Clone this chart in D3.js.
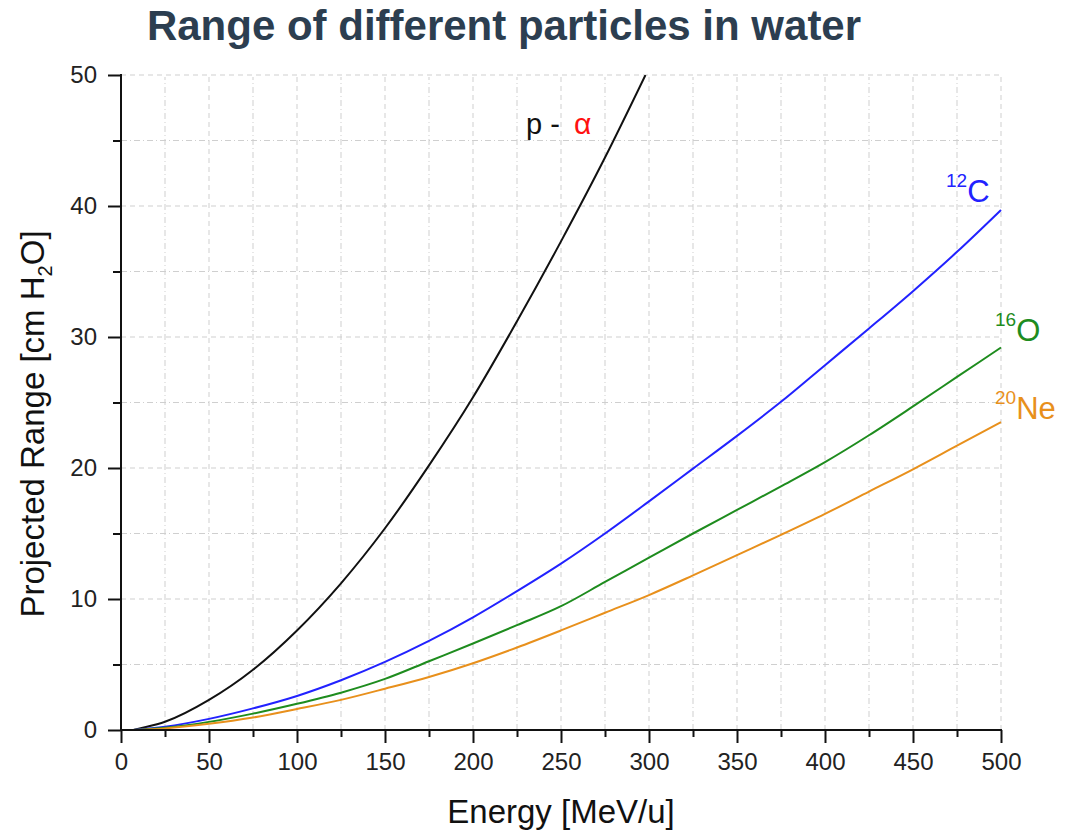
<!DOCTYPE html>
<html>
<head>
<meta charset="utf-8">
<script src="https://cdn.jsdelivr.net/npm/d3@7"></script>
<style>
  body { margin: 0; background: #fff; }
  svg { display: block; }
  text { font-family: "Liberation Sans", Arial, sans-serif; }
</style>
</head>
<body>
<svg id="chart" width="1065" height="831"></svg>
<script>
// ---- Data ----
const energyTicks = [0, 50, 100, 150, 200, 250, 300, 350, 400, 450, 500];
const rangeTicks = [0, 10, 20, 30, 40, 50];

const protonAlpha = [[7,0],[10,0.1],[25,0.63],[50,2.3],[75,4.6],[100,7.6],[125,11.2],[150,15.4],[175,20.2],[200,25.4],[225,31.2],[250,37.3],[275,43.7],[298,50]];
const carbon12 = [[7,0],[25,0.25],[50,0.85],[75,1.65],[100,2.6],[125,3.8],[150,5.2],[175,6.8],[200,8.6],[225,10.6],[250,12.7],[275,15.0],[300,17.45],[325,19.95],[350,22.45],[375,25.05],[400,27.85],[425,30.65],[450,33.5],[475,36.5],[500,39.7]];
const oxygen16 = [[7,0],[25,0.17],[50,0.62],[75,1.25],[100,2.0],[125,2.85],[150,3.9],[175,5.25],[200,6.6],[225,8.0],[250,9.45],[275,11.3],[300,13.15],[325,15.0],[350,16.8],[375,18.6],[400,20.45],[425,22.5],[450,24.7],[475,26.95],[500,29.2]];
const neon20 = [[7,0],[25,0.12],[50,0.47],[75,0.95],[100,1.6],[125,2.3],[150,3.15],[175,4.05],[200,5.1],[225,6.3],[250,7.6],[275,8.95],[300,10.3],[325,11.8],[350,13.35],[375,14.9],[400,16.5],[425,18.2],[450,19.9],[475,21.7],[500,23.5]];

const seriesList = [
  { name: "p-alpha", data: protonAlpha, color: "#111111" },
  { name: "12C", data: carbon12, color: "#2222ff" },
  { name: "16O", data: oxygen16, color: "#1e8c1e" },
  { name: "20Ne", data: neon20, color: "#e8901c" }
];

// ---- Layout ----
const svg = d3.select("#chart");
const x = d3.scaleLinear().domain([0, 500]).range([121, 1001]);
const y = d3.scaleLinear().domain([0, 50]).range([730, 75]);

// Title
svg.append("text")
  .attr("x", 504).attr("y", 40)
  .attr("text-anchor", "middle")
  .attr("font-size", 42).attr("font-weight", "bold")
  .attr("fill", "#2c3e50")
  .text("Range of different particles in water");

// Grid
const gridColor = "#cfcfcf";
const xGrid = d3.range(25, 501, 25);
const yGrid = d3.range(5, 51, 5);
svg.append("g").selectAll("line").data(xGrid).join("line")
  .attr("x1", d => x(d)).attr("x2", d => x(d))
  .attr("y1", y(0)).attr("y2", y(50) + 2)
  .attr("stroke", gridColor).attr("stroke-width", 1)
  .attr("stroke-dasharray", d => d % 50 === 0 ? "5,4" : "6,3,1,3");
svg.append("g").selectAll("line").data(yGrid).join("line")
  .attr("x1", x(0)).attr("x2", x(500) - 1)
  .attr("y1", d => y(d)).attr("y2", d => y(d))
  .attr("stroke", gridColor).attr("stroke-width", 1)
  .attr("stroke-dasharray", d => d % 10 === 0 ? "5,4" : "6,3,1,3");

// Clip
svg.append("clipPath").attr("id", "plotclip").append("rect")
  .attr("x", x(0)).attr("y", y(50)).attr("width", x(500) - x(0) + 2).attr("height", y(0) - y(50));

// Curves
const line = d3.line().x(d => x(d[0])).y(d => y(d[1])).curve(d3.curveMonotoneX);
svg.append("g").attr("clip-path", "url(#plotclip)")
  .selectAll("path").data(seriesList).join("path")
  .attr("d", d => line(d.data))
  .attr("fill", "none")
  .attr("stroke", d => d.color)
  .attr("stroke-width", 2);

// Axes
const xAxisMinor = d3.axisBottom(x).tickValues(d3.range(25, 500, 50)).tickSize(7).tickFormat("");
const xAxisMajor = d3.axisBottom(x).tickValues(energyTicks).tickSize(13).tickPadding(10).tickFormat(d3.format("d"));
const yAxisMinor = d3.axisLeft(y).tickValues(d3.range(5, 50, 10)).tickSize(8).tickFormat("");
const yAxisMajor = d3.axisLeft(y).tickValues(rangeTicks).tickSize(13).tickPadding(11).tickFormat(d3.format("d"));

function styleAxis(g) {
  g.select(".domain").remove();
  g.selectAll(".tick line").attr("stroke", "#111").attr("stroke-width", 2);
  g.selectAll(".tick text").attr("fill", "#222").attr("font-size", 24)
    .attr("font-family", "'Liberation Sans', Arial, sans-serif");
}
svg.append("g").attr("transform", `translate(0,${y(0)})`).call(xAxisMinor).call(styleAxis);
svg.append("g").attr("transform", `translate(0,${y(0)})`).call(xAxisMajor).call(styleAxis);
svg.append("g").attr("transform", `translate(${x(0)},0)`).call(yAxisMinor).call(styleAxis);
svg.append("g").attr("transform", `translate(${x(0)},0)`).call(yAxisMajor).call(styleAxis);

// Axis lines
svg.append("line").attr("x1", x(0)).attr("x2", x(500) + 1).attr("y1", y(0)).attr("y2", y(0))
  .attr("stroke", "#111").attr("stroke-width", 2);
svg.append("line").attr("x1", x(0)).attr("x2", x(0)).attr("y1", y(0) + 1).attr("y2", y(50) - 1)
  .attr("stroke", "#111").attr("stroke-width", 2);

// Axis titles
svg.append("text")
  .attr("x", 561).attr("y", 823)
  .attr("text-anchor", "middle")
  .attr("font-size", 33).attr("fill", "#111")
  .text("Energy [MeV/u]");

const yt = svg.append("text")
  .attr("transform", "translate(44,424) rotate(-90)")
  .attr("text-anchor", "middle")
  .attr("font-size", 33).attr("fill", "#111");
yt.append("tspan").text("Projected Range [cm H");
yt.append("tspan").attr("font-size", 20).attr("dy", 8).text("2");
yt.append("tspan").attr("dy", -8).text("O]");

// Series labels
svg.append("text").attr("x", 526).attr("y", 134).attr("font-size", 29).attr("fill", "#111").text("p -");
svg.append("text").attr("x", 574).attr("y", 134).attr("fill", "#ff1010")
  .attr("font-family", "'DejaVu Serif', serif").attr("font-size", 30).text("α");

function isoLabel(xp, yp, mass, sym, color) {
  const t = svg.append("text").attr("x", xp).attr("y", yp).attr("fill", color).attr("font-size", 31);
  t.append("tspan").attr("font-size", 19).attr("dy", -15).text(mass);
  t.append("tspan").attr("dy", 15).text(sym);
}
isoLabel(946, 202, "12", "C", "#2222ff");
isoLabel(995, 341, "16", "O", "#1e8c1e");
isoLabel(995, 419, "20", "Ne", "#e8901c");
</script>
</body>
</html>
